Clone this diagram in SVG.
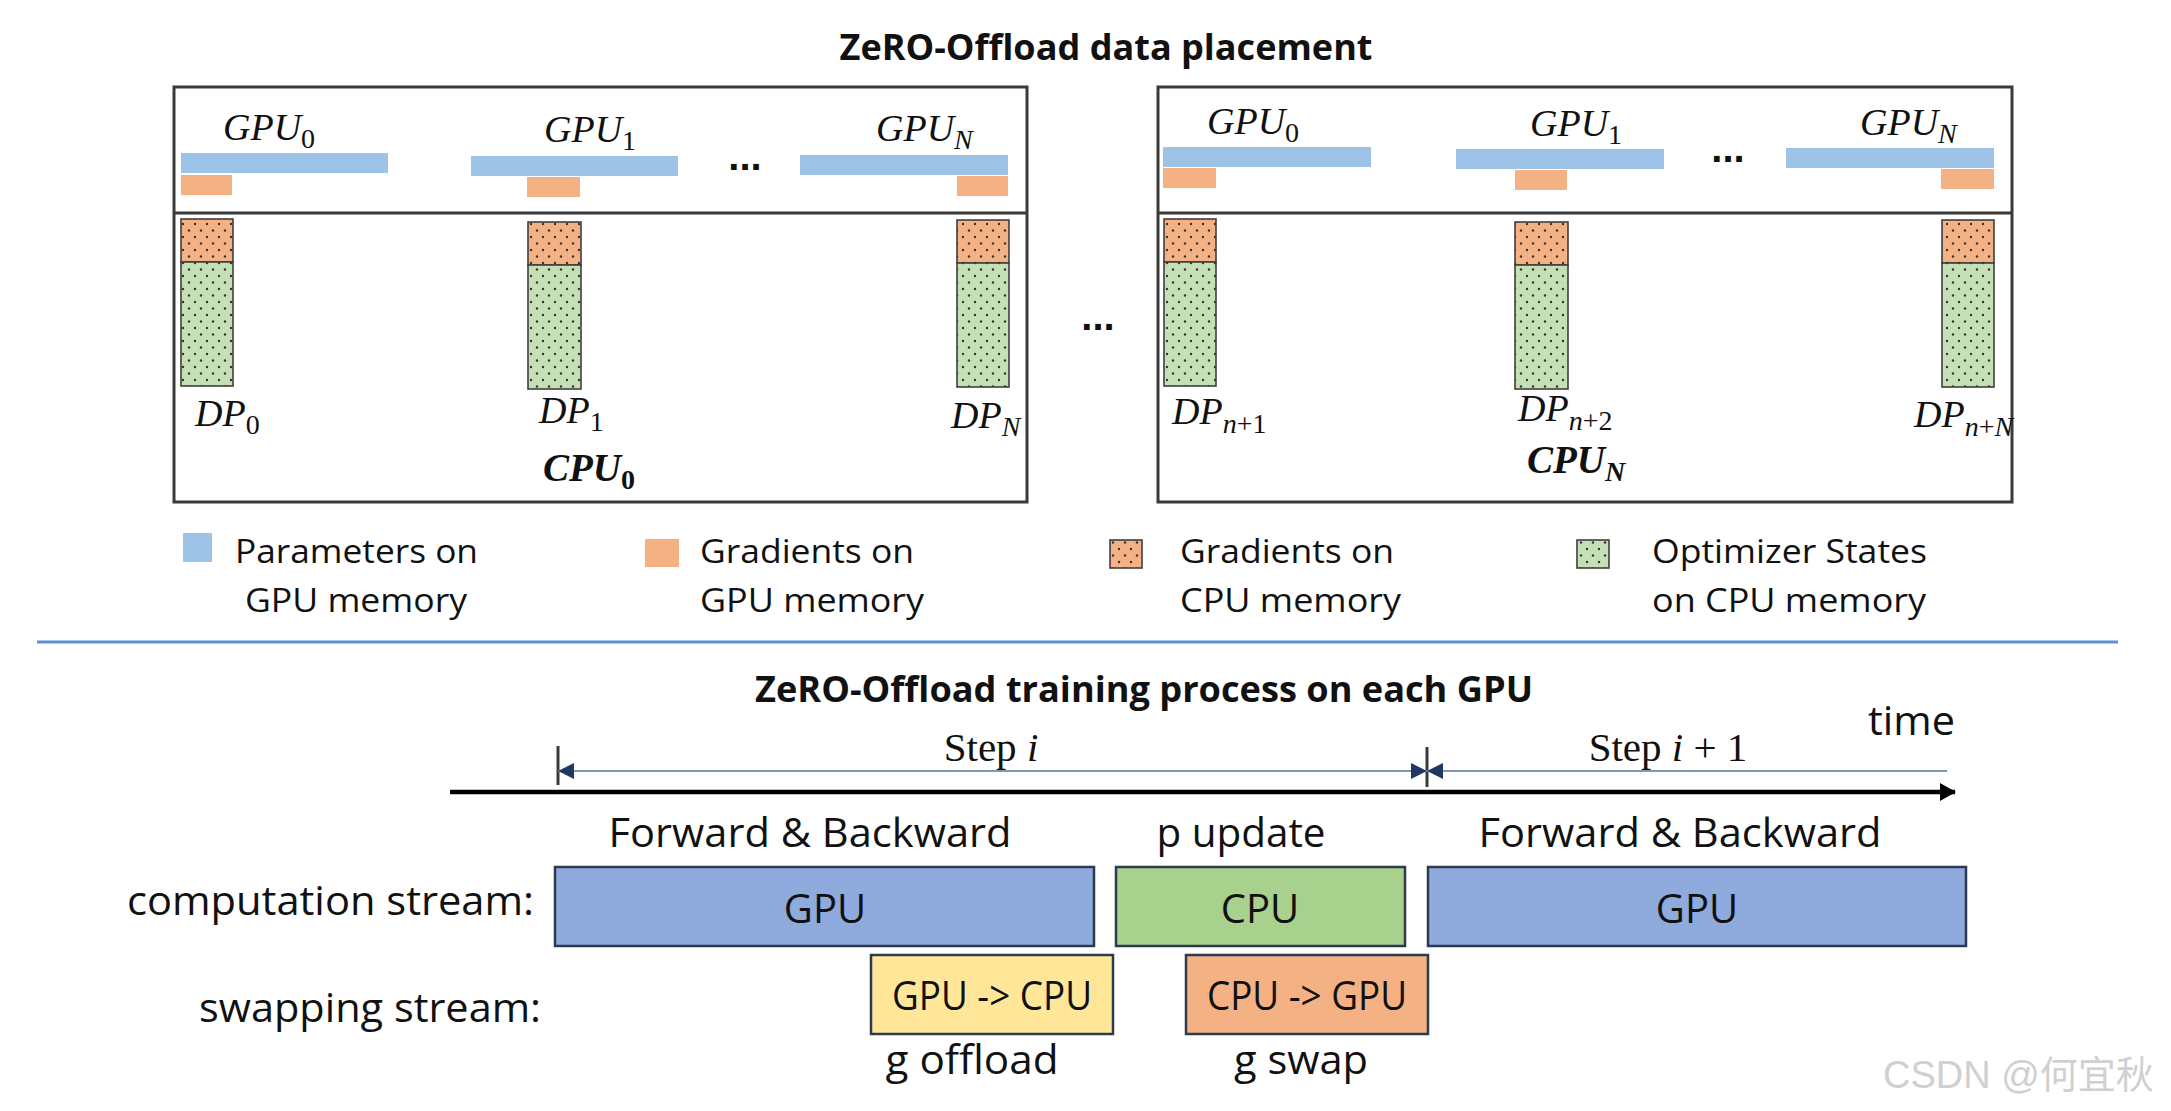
<svg xmlns="http://www.w3.org/2000/svg" width="2171" height="1111" viewBox="0 0 2171 1111">
<style>
.bg{fill:#ffffff}
.frame{fill:none;stroke:#3a3a3a;stroke-width:3}
.param{fill:#9dc3e6}
.grad{fill:#f4b183}
.col{stroke:#3f3f3f;stroke-width:1.6}
.math{font-family:"Liberation Serif",serif;font-style:italic;font-size:38px;fill:#111}
.mathb{font-family:"Liberation Serif",serif;font-style:italic;font-weight:bold;font-size:39px;fill:#111}
.sub{font-size:28px;font-style:normal}
.subi{font-size:28px;font-style:italic}
.title{font-family:"Open Sans","Liberation Sans",sans-serif;font-weight:bold;font-size:35px;fill:#111}
.lab{font-family:"Open Sans","Liberation Sans",sans-serif;font-size:33px;fill:#111}
.big{font-family:"Open Sans","Liberation Sans",sans-serif;font-size:40px;fill:#111}
.serif{font-family:"Liberation Serif",serif;font-size:41px;fill:#111}
.dots{font-family:"Liberation Sans",sans-serif;font-weight:bold;font-size:40px;fill:#111}
.box{stroke:#2e3a50;stroke-width:2.5}
.dim{stroke:#8497b0;stroke-width:2;fill:none}
.tick{stroke:#3a3a3a;stroke-width:3}
.axis{stroke:#000;stroke-width:4.5;fill:none}
</style>
<defs>
<pattern id="dotG" width="12" height="13" patternUnits="userSpaceOnUse">
<rect width="12" height="13" fill="#c5e0b4"/>
<circle cx="3" cy="3" r="1.2" fill="#333"/>
<circle cx="9" cy="9.5" r="1.2" fill="#333"/>
</pattern>
<pattern id="dotO" width="12" height="13" patternUnits="userSpaceOnUse">
<rect width="12" height="13" fill="#f4b183"/>
<circle cx="3" cy="3" r="1.2" fill="#333"/>
<circle cx="9" cy="9.5" r="1.2" fill="#333"/>
</pattern>
<marker id="dimArrow" viewBox="0 0 16 16" refX="16" refY="8" markerWidth="16" markerHeight="16" markerUnits="userSpaceOnUse" orient="auto">
<path d="M0,0 L16,8 L0,16 Z" fill="#1f3864"/>
</marker>
<marker id="axisArrow" viewBox="0 0 16 18" refX="15" refY="9" markerWidth="16" markerHeight="18" markerUnits="userSpaceOnUse" orient="auto">
<path d="M0,0 L16,9 L0,18 Z" fill="#000"/>
</marker>
</defs>
<rect class="bg" x="0" y="0" width="2171" height="1111"/>

<text class="title" x="1106" y="60" text-anchor="middle" textLength="533" lengthAdjust="spacingAndGlyphs">ZeRO-Offload data placement</text>

<!-- Left machine -->
<g id="cpu0-node">
<rect class="frame" x="174" y="87" width="853" height="415"/>
<line class="frame" x1="174" y1="213" x2="1027" y2="213"/>
<g id="cpu0-gpu0">
<text class="math" x="223" y="140">GPU<tspan class="sub" dy="8">0</tspan></text>
<rect class="param" x="181" y="153" width="207" height="20"/>
<rect class="grad" x="181" y="175" width="51" height="20"/>
</g>
<g id="cpu0-gpu1">
<text class="math" x="544" y="142">GPU<tspan class="sub" dy="8">1</tspan></text>
<rect class="param" x="471" y="156" width="207" height="20"/>
<rect class="grad" x="527" y="177" width="53" height="20"/>
</g>
<text class="dots" x="745" y="170" text-anchor="middle">...</text>
<g id="cpu0-gpuN">
<text class="math" x="876" y="141">GPU<tspan class="subi" dy="8">N</tspan></text>
<rect class="param" x="800" y="155" width="208" height="20"/>
<rect class="grad" x="957" y="176" width="51" height="20"/>
</g>
<g id="cpu0-dp0">
<rect class="col" x="181" y="219" width="52" height="43" fill="url(#dotO)"/>
<rect class="col" x="181" y="262" width="52" height="124" fill="url(#dotG)"/>
<text class="math" x="195" y="426">DP<tspan class="sub" dy="8">0</tspan></text>
</g>
<g id="cpu0-dp1">
<rect class="col" x="528" y="222" width="53" height="43" fill="url(#dotO)"/>
<rect class="col" x="528" y="265" width="53" height="124" fill="url(#dotG)"/>
<text class="math" x="539" y="423">DP<tspan class="sub" dy="8">1</tspan></text>
</g>
<g id="cpu0-dpN">
<rect class="col" x="957" y="220" width="52" height="43" fill="url(#dotO)"/>
<rect class="col" x="957" y="263" width="52" height="124" fill="url(#dotG)"/>
<text class="math" x="951" y="428">DP<tspan class="subi" dy="8">N</tspan></text>
</g>
<text class="mathb" x="543" y="481">CPU<tspan class="sub" dy="8">0</tspan></text>
</g>

<text class="dots" x="1098" y="330" text-anchor="middle">...</text>

<!-- Right machine -->
<g id="cpuN-node">
<rect class="frame" x="1158" y="87" width="854" height="415"/>
<line class="frame" x1="1158" y1="213" x2="2012" y2="213"/>
<g id="cpuN-gpu0">
<text class="math" x="1207" y="134">GPU<tspan class="sub" dy="8">0</tspan></text>
<rect class="param" x="1163" y="147" width="208" height="20"/>
<rect class="grad" x="1163" y="168" width="53" height="20"/>
</g>
<g id="cpuN-gpu1">
<text class="math" x="1530" y="136">GPU<tspan class="sub" dy="8">1</tspan></text>
<rect class="param" x="1456" y="149" width="208" height="20"/>
<rect class="grad" x="1515" y="170" width="52" height="20"/>
</g>
<text class="dots" x="1728" y="162" text-anchor="middle">...</text>
<g id="cpuN-gpuN">
<text class="math" x="1860" y="135">GPU<tspan class="subi" dy="8">N</tspan></text>
<rect class="param" x="1786" y="148" width="208" height="20"/>
<rect class="grad" x="1941" y="169" width="53" height="20"/>
</g>
<g id="cpuN-dp1">
<rect class="col" x="1164" y="219" width="52" height="43" fill="url(#dotO)"/>
<rect class="col" x="1164" y="262" width="52" height="124" fill="url(#dotG)"/>
<text class="math" x="1172" y="424">DP<tspan dy="9"><tspan class="subi">n</tspan><tspan class="sub">+1</tspan></tspan></text>
</g>
<g id="cpuN-dp2">
<rect class="col" x="1515" y="222" width="53" height="43" fill="url(#dotO)"/>
<rect class="col" x="1515" y="265" width="53" height="124" fill="url(#dotG)"/>
<text class="math" x="1518" y="421">DP<tspan dy="9"><tspan class="subi">n</tspan><tspan class="sub">+2</tspan></tspan></text>
</g>
<g id="cpuN-dpN">
<rect class="col" x="1942" y="220" width="52" height="43" fill="url(#dotO)"/>
<rect class="col" x="1942" y="263" width="52" height="124" fill="url(#dotG)"/>
<text class="math" x="1914" y="427">DP<tspan dy="9"><tspan class="subi">n</tspan><tspan class="sub">+</tspan><tspan class="subi">N</tspan></tspan></text>
</g>
<text class="mathb" x="1527" y="473">CPU<tspan class="subi" dy="8">N</tspan></text>
</g>

<!-- Legend -->
<g id="legend">
<rect class="param" x="183" y="533" width="29" height="29"/>
<text class="lab" x="235" y="563" textLength="243" lengthAdjust="spacingAndGlyphs">Parameters on</text>
<text class="lab" x="245" y="612" textLength="222" lengthAdjust="spacingAndGlyphs">GPU memory</text>
<rect class="grad" x="645" y="539" width="34" height="28"/>
<text class="lab" x="700" y="563" textLength="214" lengthAdjust="spacingAndGlyphs">Gradients on</text>
<text class="lab" x="700" y="612" textLength="224" lengthAdjust="spacingAndGlyphs">GPU memory</text>
<rect class="col" x="1110" y="540" width="32" height="28" fill="url(#dotO)" stroke-width="2"/>
<text class="lab" x="1180" y="563" textLength="214" lengthAdjust="spacingAndGlyphs">Gradients on</text>
<text class="lab" x="1180" y="612" textLength="221" lengthAdjust="spacingAndGlyphs">CPU memory</text>
<rect class="col" x="1577" y="540" width="32" height="28" fill="url(#dotG)" stroke-width="2"/>
<text class="lab" x="1652" y="563" textLength="275" lengthAdjust="spacingAndGlyphs">Optimizer States</text>
<text class="lab" x="1652" y="612" textLength="274" lengthAdjust="spacingAndGlyphs">on CPU memory</text>
</g>

<line x1="37" y1="642" x2="2118" y2="642" stroke="#5b8fd6" stroke-width="3"/>

<text class="title" x="1144" y="702" text-anchor="middle" textLength="778" lengthAdjust="spacingAndGlyphs">ZeRO-Offload training process on each GPU</text>

<!-- Timeline connectors -->
<g id="connectors">
<line class="axis" x1="450" y1="792" x2="1955" y2="792" marker-end="url(#axisArrow)"/>
<line class="tick" x1="558" y1="746" x2="558" y2="785"/>
<line class="tick" x1="1427" y1="747" x2="1427" y2="787"/>
<line class="dim" x1="1412" y1="771" x2="558" y2="771" marker-end="url(#dimArrow)"/>
<line class="dim" x1="575" y1="771" x2="1427" y2="771" marker-end="url(#dimArrow)"/>
<line class="dim" x1="1947" y1="771" x2="1427" y2="771" marker-end="url(#dimArrow)"/>
</g>

<text class="big" x="1868" y="735" textLength="87" lengthAdjust="spacingAndGlyphs">time</text>
<text class="serif" x="991" y="761" text-anchor="middle">Step <tspan font-style="italic">i</tspan></text>
<text class="serif" x="1668" y="761" text-anchor="middle">Step <tspan font-style="italic">i</tspan> + 1</text>

<text class="big" x="810" y="847" text-anchor="middle" textLength="403" lengthAdjust="spacingAndGlyphs">Forward &amp; Backward</text>
<text class="big" x="1241" y="847" text-anchor="middle" textLength="169" lengthAdjust="spacingAndGlyphs">p update</text>
<text class="big" x="1680" y="847" text-anchor="middle" textLength="403" lengthAdjust="spacingAndGlyphs">Forward &amp; Backward</text>

<text class="big" x="534" y="915" text-anchor="end" textLength="407" lengthAdjust="spacingAndGlyphs">computation stream:</text>
<text class="big" x="541" y="1022" text-anchor="end" textLength="342" lengthAdjust="spacingAndGlyphs">swapping stream:</text>

<g id="gpu-fb1">
<rect class="box" x="555" y="867" width="539" height="79" fill="#8faadc"/>
<text class="big" x="825" y="923" text-anchor="middle" font-size="42">GPU</text>
</g>
<g id="cpu-update">
<rect class="box" x="1116" y="867" width="289" height="79" fill="#a9d18e"/>
<text class="big" x="1260" y="923" text-anchor="middle" font-size="42">CPU</text>
</g>
<g id="gpu-fb2">
<rect class="box" x="1428" y="867" width="538" height="79" fill="#8faadc"/>
<text class="big" x="1697" y="923" text-anchor="middle" font-size="42">GPU</text>
</g>
<g id="g-offload">
<rect class="box" x="871" y="955" width="242" height="79" fill="#ffe699"/>
<text class="big" x="992" y="1010" text-anchor="middle" font-size="37" textLength="200" lengthAdjust="spacingAndGlyphs">GPU -&gt; CPU</text>
<text class="big" x="972" y="1074" text-anchor="middle" textLength="173" lengthAdjust="spacingAndGlyphs">g offload</text>
</g>
<g id="g-swap">
<rect class="box" x="1186" y="955" width="242" height="79" fill="#f4b183"/>
<text class="big" x="1307" y="1010" text-anchor="middle" font-size="37" textLength="200" lengthAdjust="spacingAndGlyphs">CPU -&gt; GPU</text>
<text class="big" x="1301" y="1074" text-anchor="middle" textLength="134" lengthAdjust="spacingAndGlyphs">g swap</text>
</g>

<text x="1883" y="1088" font-family="'Liberation Sans','Noto Sans CJK SC',sans-serif" font-size="38" fill="#d0d0d0">CSDN @何宜秋</text>
</svg>
